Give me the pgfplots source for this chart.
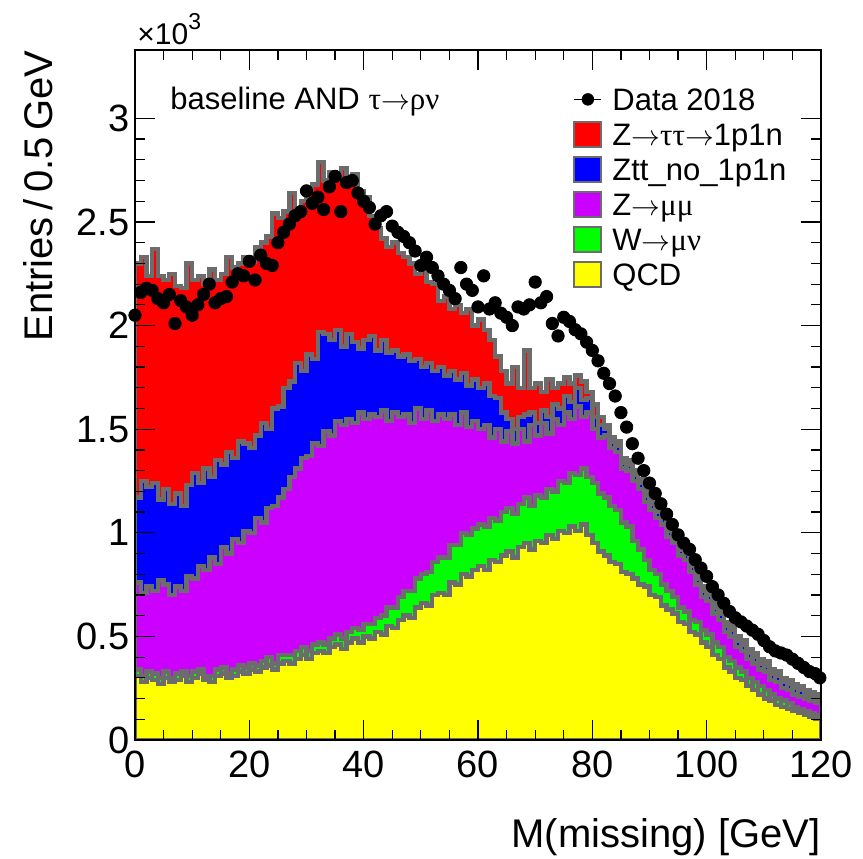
\documentclass[border=0pt]{standalone}
\usepackage{fontspec}
\setmainfont{Liberation Sans}
\newfontfamily\sym{Liberation Serif}
\usepackage{pgfplots}
\pgfplotsset{compat=1.18}
\usepackage{pgfplotstable}

\definecolor{zred}{RGB}{255,0,0}
\definecolor{zblue}{RGB}{0,0,255}
\definecolor{zmag}{RGB}{204,0,255}
\definecolor{zgreen}{RGB}{0,255,0}
\definecolor{zyellow}{RGB}{255,255,0}
\definecolor{hgray}{RGB}{108,108,108}

% cumulative stack tops (x10^3): q=QCD, w=+W, m=+Zmumu, b=+Ztt_no_1p1n, r=+Ztautau 1p1n (total)
\pgfplotstableread{
x q w m b r
0 0.31 0.34 0.76 1.17 2.30
1 0.28 0.31 0.71 1.25 2.33
2 0.30 0.33 0.74 1.22 2.24
3 0.29 0.32 0.72 1.24 2.37
4 0.27 0.30 0.77 1.16 2.24
5 0.30 0.33 0.75 1.21 2.22
6 0.28 0.30 0.70 1.14 2.25
7 0.29 0.32 0.74 1.19 2.19
8 0.31 0.33 0.72 1.13 2.18
9 0.28 0.31 0.79 1.23 2.30
10 0.30 0.33 0.78 1.29 2.22
11 0.32 0.34 0.84 1.24 2.24
12 0.29 0.31 0.82 1.31 2.20
13 0.28 0.31 0.88 1.27 2.27
14 0.31 0.34 0.85 1.35 2.22
15 0.32 0.35 0.93 1.33 2.25
16 0.30 0.32 0.90 1.39 2.33
17 0.31 0.34 0.97 1.36 2.28
18 0.33 0.36 0.95 1.44 2.30
19 0.32 0.35 1.01 1.43 2.33
20 0.34 0.37 1.00 1.41 2.31
21 0.33 0.36 1.07 1.47 2.38
22 0.35 0.38 1.05 1.53 2.40
23 0.36 0.40 1.12 1.50 2.43
24 0.34 0.37 1.13 1.60 2.54
25 0.37 0.41 1.17 1.61 2.52
26 0.38 0.41 1.21 1.70 2.55
27 0.37 0.41 1.27 1.73 2.64
28 0.39 0.43 1.31 1.82 2.55
29 0.41 0.45 1.36 1.78 2.60
30 0.39 0.43 1.37 1.86 2.66
31 0.42 0.46 1.43 1.84 2.68
32 0.43 0.47 1.42 1.97 2.79
33 0.42 0.46 1.49 1.96 2.70
34 0.45 0.49 1.47 1.93 2.74
35 0.46 0.51 1.54 1.98 2.72
36 0.44 0.49 1.52 1.90 2.76
37 0.47 0.52 1.55 1.96 2.70
38 0.49 0.54 1.53 1.92 2.73
39 0.47 0.53 1.58 1.89 2.65
40 0.50 0.56 1.55 1.93 2.62
41 0.49 0.56 1.57 1.95 2.53
42 0.52 0.59 1.56 1.88 2.47
43 0.51 0.60 1.59 1.93 2.42
44 0.55 0.64 1.54 1.87 2.38
45 0.54 0.64 1.58 1.88 2.40
46 0.58 0.69 1.56 1.85 2.35
47 0.60 0.72 1.57 1.86 2.33
48 0.59 0.72 1.53 1.83 2.30
49 0.64 0.78 1.60 1.84 2.25
50 0.66 0.80 1.55 1.80 2.28
51 0.65 0.81 1.59 1.82 2.21
52 0.70 0.86 1.54 1.78 2.20
53 0.71 0.88 1.57 1.80 2.12
54 0.70 0.88 1.55 1.76 2.14
55 0.76 0.94 1.57 1.78 2.08
56 0.75 0.94 1.52 1.74 2.10
57 0.80 1.00 1.58 1.77 2.06
58 0.79 0.99 1.51 1.71 2.08
59 0.82 1.02 1.54 1.74 2.00
60 0.84 1.04 1.50 1.70 2.03
61 0.82 1.03 1.52 1.72 1.98
62 0.87 1.07 1.46 1.66 1.93
63 0.86 1.06 1.50 1.65 1.85
64 0.89 1.10 1.44 1.58 1.78
65 0.91 1.12 1.49 1.55 1.72
66 0.88 1.09 1.43 1.50 1.80
67 0.93 1.14 1.50 1.56 1.70
68 0.95 1.17 1.44 1.57 1.88
69 0.92 1.13 1.52 1.58 1.70
70 0.96 1.18 1.47 1.53 1.72
71 0.95 1.17 1.53 1.59 1.68
72 0.99 1.21 1.48 1.56 1.74
73 0.97 1.20 1.55 1.62 1.70
74 1.01 1.25 1.52 1.60 1.72
75 1.00 1.24 1.58 1.66 1.75
76 1.03 1.29 1.55 1.63 1.72
77 1.01 1.28 1.61 1.70 1.76
78 1.04 1.31 1.56 1.64 1.73
79 0.99 1.27 1.58 1.65 1.68
80 0.95 1.24 1.50 1.56 1.62
81 0.91 1.19 1.46 1.52 1.56
82 0.89 1.17 1.47 1.50 1.52
83 0.86 1.13 1.41 1.44 1.46
84 0.85 1.11 1.39 1.42 1.44
85 0.81 1.05 1.31 1.34 1.36
86 0.80 1.03 1.30 1.33 1.35
87 0.78 0.96 1.25 1.28 1.30
88 0.75 0.92 1.21 1.24 1.26
89 0.74 0.87 1.15 1.18 1.20
90 0.70 0.82 1.11 1.14 1.16
91 0.69 0.80 1.07 1.10 1.12
92 0.65 0.75 1.04 1.07 1.09
93 0.63 0.72 0.98 1.01 1.03
94 0.61 0.69 0.95 0.98 1.00
95 0.57 0.64 0.89 0.92 0.94
96 0.56 0.62 0.87 0.90 0.92
97 0.52 0.58 0.81 0.84 0.86
98 0.51 0.57 0.75 0.78 0.80
99 0.47 0.53 0.69 0.72 0.74
100 0.45 0.51 0.67 0.70 0.72
101 0.41 0.47 0.61 0.64 0.66
102 0.39 0.45 0.58 0.61 0.63
103 0.35 0.40 0.52 0.55 0.57
104 0.33 0.38 0.50 0.53 0.55
105 0.30 0.35 0.45 0.48 0.50
106 0.29 0.33 0.43 0.46 0.48
107 0.26 0.30 0.39 0.42 0.44
108 0.24 0.28 0.37 0.40 0.42
109 0.22 0.26 0.34 0.37 0.39
110 0.20 0.24 0.33 0.36 0.38
111 0.19 0.22 0.29 0.32 0.34
112 0.17 0.20 0.28 0.31 0.33
113 0.16 0.19 0.25 0.28 0.30
114 0.15 0.18 0.24 0.27 0.29
115 0.14 0.16 0.22 0.25 0.27
116 0.13 0.15 0.21 0.24 0.26
117 0.12 0.14 0.20 0.22 0.24
118 0.11 0.13 0.19 0.21 0.23
119 0.10 0.12 0.18 0.20 0.22
120 0.10 0.12 0.18 0.20 0.22
}\mc

\pgfplotstableread{
x y
0 2.05
1 2.16
2 2.18
3 2.17
4 2.13
5 2.11
6 2.15
7 2.01
8 2.12
9 2.09
10 2.05
11 2.10
12 2.15
13 2.20
14 2.11
15 2.13
16 2.14
17 2.21
18 2.25
19 2.24
20 2.31
21 2.22
22 2.34
23 2.30
24 2.29
25 2.40
26 2.45
27 2.49
28 2.53
29 2.55
30 2.65
31 2.59
32 2.62
33 2.56
34 2.67
35 2.72
36 2.55
37 2.69
38 2.70
39 2.64
40 2.60
41 2.57
42 2.49
43 2.53
44 2.55
45 2.48
46 2.45
47 2.43
48 2.40
49 2.36
50 2.29
51 2.33
52 2.28
53 2.24
54 2.20
55 2.17
56 2.13
57 2.28
58 2.20
59 2.17
60 2.09
61 2.24
62 2.08
63 2.11
64 2.06
65 2.04
66 2.00
67 2.09
68 2.08
69 2.10
70 2.21
71 2.11
72 2.14
73 2.01
74 1.95
75 2.04
76 2.02
77 1.98
78 1.96
79 1.92
80 1.88
81 1.83
82 1.77
83 1.72
84 1.66
85 1.58
86 1.51
87 1.43
88 1.36
89 1.30
90 1.24
91 1.19
92 1.14
93 1.09
94 1.04
95 0.99
96 0.95
97 0.92
98 0.87
99 0.83
100 0.79
101 0.74
102 0.70
103 0.66
104 0.62
105 0.59
106 0.57
107 0.55
108 0.53
109 0.51
110 0.48
111 0.45
112 0.43
113 0.42
114 0.41
115 0.39
116 0.37
117 0.35
118 0.33
119 0.32
119.8 0.30
}\data

\begin{document}
\begin{tikzpicture}
\path[use as bounding box] (-67.5pt,-59pt) rectangle (364pt,370pt);
\begin{axis}[
  at={(0pt,0pt)}, anchor=south west,
  scale only axis, width=343pt, height=345pt,
  xmin=0, xmax=120, ymin=0, ymax=3.33,
  axis on top,
  tick align=inside, xtick pos=both, ytick pos=both,
  xtick={0,20,...,120}, minor x tick num=3,
  ytick={0,0.5,1,1.5,2,2.5,3}, minor y tick num=4,
  major tick length=10pt, minor tick length=5pt,
  tick style={black, line width=0.6pt},
  axis line style={line width=0.6pt},
  ticklabel style={font=\fontsize{19}{19}\selectfont},
  /pgf/number format/assume math mode=true,
  yticklabel style={anchor=east, inner sep=0pt, xshift=-2.5pt},
  xticklabel style={anchor=base, inner sep=0pt, yshift=-18.5pt},
  legend cell align=left,
  legend style={at={(0.6385,0.9493)}, anchor=north west, draw=none, fill=none,
    inner sep=0pt, row sep=3.5pt, column sep=5pt,
    font=\fontsize{15.5}{15.5}\selectfont,
    nodes={inner sep=0pt, text height=12.5pt, text depth=1.5pt}},
]
\addplot[const plot mark left, fill=zred, draw=hgray, line width=2.2pt, forget plot] table[x=x,y=r]{\mc} \closedcycle;
\addplot[const plot mark left, fill=zblue, draw=hgray, line width=2.2pt, forget plot] table[x=x,y=b]{\mc} \closedcycle;
\addplot[const plot mark left, fill=zmag, draw=hgray, line width=2.2pt, forget plot] table[x=x,y=m]{\mc} \closedcycle;
\addplot[const plot mark left, fill=zgreen, draw=hgray, line width=2.2pt, forget plot] table[x=x,y=w]{\mc} \closedcycle;
\addplot[const plot mark left, fill=zyellow, draw=hgray, line width=2.2pt, forget plot] table[x=x,y=q]{\mc} \closedcycle;
\addplot[only marks, mark=*, mark size=3.1pt, black, forget plot] table[x=x,y=y]{\data};

\addlegendimage{legend image code/.code={\draw[black, line width=0.8pt] (0pt,0pt) -- (13.5pt,0pt); \fill[black] (6.75pt,0pt) circle (2.9pt);}}
\addlegendentry{Data 2018}
\addlegendimage{legend image code/.code={\draw[fill=zred, draw=hgray, line width=1pt] (0pt,-6.25pt) rectangle (13.5pt,6.25pt);}}
\addlegendentry{Z$\rightarrow${\sym ττ}$\rightarrow$1p1n}
\addlegendimage{legend image code/.code={\draw[fill=zblue, draw=hgray, line width=1pt] (0pt,-6.25pt) rectangle (13.5pt,6.25pt);}}
\addlegendentry{Ztt\_no\_1p1n}
\addlegendimage{legend image code/.code={\draw[fill=zmag, draw=hgray, line width=1pt] (0pt,-6.25pt) rectangle (13.5pt,6.25pt);}}
\addlegendentry{Z$\rightarrow${\sym μμ}}
\addlegendimage{legend image code/.code={\draw[fill=zgreen, draw=hgray, line width=1pt] (0pt,-6.25pt) rectangle (13.5pt,6.25pt);}}
\addlegendentry{W$\rightarrow${\sym μν}}
\addlegendimage{legend image code/.code={\draw[fill=zyellow, draw=hgray, line width=1pt] (0pt,-6.25pt) rectangle (13.5pt,6.25pt);}}
\addlegendentry{QCD}
\end{axis}
\node[anchor=base east, inner sep=0pt, font=\fontsize{20}{20}\selectfont] at (343pt,-53.5pt) {M(missing) [GeV]};
\node[rotate=90, anchor=base east, inner sep=0pt, font=\fontsize{20}{20}\selectfont] at (-41.5pt,345pt) {Entries\,/\,0.5\,GeV};
\node[anchor=base west, inner sep=0pt, font=\fontsize{15}{15}\selectfont] at (1pt,347.5pt) {×10\raisebox{7.5pt}{\fontsize{11.5}{12}\selectfont 3}};
\node[anchor=base west, inner sep=0pt, font=\fontsize{15.5}{15.5}\selectfont] at (17.5pt,315pt) {baseline AND {\sym τ}$\rightarrow${\sym ρν}};
\end{tikzpicture}
\end{document}
